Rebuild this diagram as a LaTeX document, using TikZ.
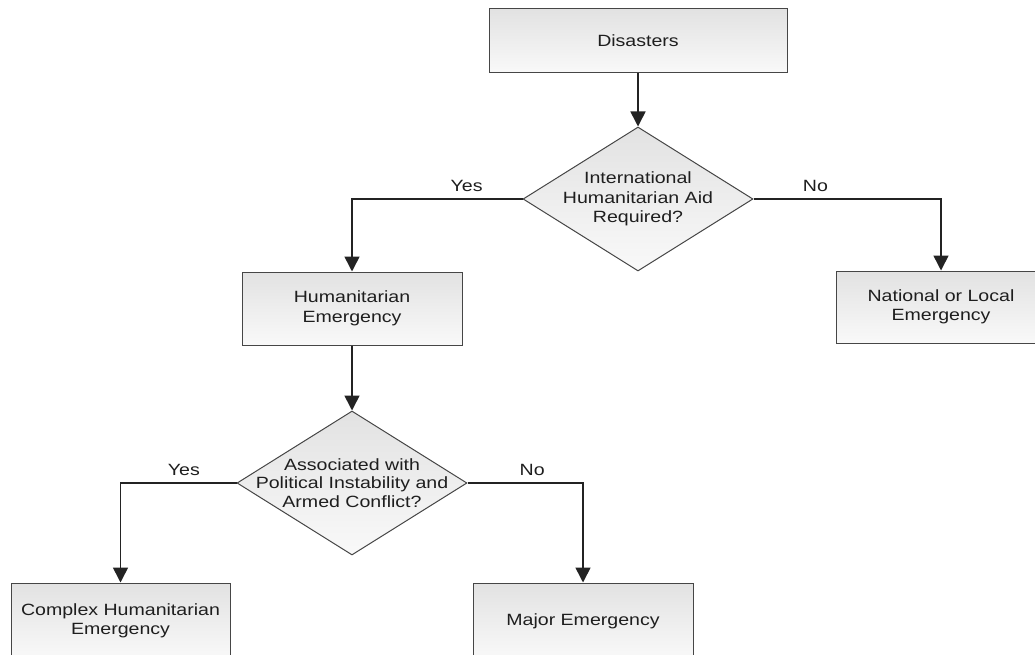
\documentclass[tikz,border=0pt]{standalone}
\usepackage{fontspec}
\setmainfont{Liberation Sans}[FakeStretch=1.2]
\usetikzlibrary{shapes.geometric,arrows.meta}
\definecolor{shadetop}{RGB}{226,226,226}
\definecolor{shadebot}{RGB}{249,249,249}
\definecolor{edgegray}{RGB}{70,70,70}
\definecolor{linedark}{RGB}{35,35,35}
\definecolor{txt}{RGB}{30,30,30}
\begin{document}
\begin{tikzpicture}[x=1pt,y=-1pt,
  every node/.style={font=\fontsize{16.3}{19.5}\selectfont, text=txt},
  boxnode/.style={rectangle, draw=edgegray, line width=1pt, top color=shadetop, bottom color=shadebot, align=center, inner sep=0pt},
  decision/.style={diamond, draw=edgegray, line width=1pt, top color=shadetop, bottom color=shadebot, inner sep=0pt, minimum width=230, minimum height=144},
  flow/.style={draw=linedark, line width=1.6pt, -{Triangle[length=15pt,width=15pt]}},
  answer/.style={inner sep=0pt, anchor=south, yshift=7pt}
]
\useasboundingbox (0,0) rectangle (1035,655);

\node[boxnode, minimum width=298, minimum height=64] (dis) at (638,41) {Disasters};
\node[decision, label={[align=center, inner sep=0pt]center:International\\Humanitarian Aid\\Required?}] (d1) at (638,199) {};
\node[boxnode, minimum width=220, minimum height=73] (hum) at (352,308.5) {Humanitarian\\Emergency};
\node[boxnode, minimum width=210, minimum height=72] (nat) at (941,307) {National or Local\\Emergency};
\node[decision, label={[align=center, inner sep=0pt, font=\fontsize{16.3}{18.7}\selectfont]center:Associated with\\Political Instability and\\Armed Conflict?}] (d2) at (352,483) {};
\node[boxnode, minimum width=219, minimum height=76] (cx) at (120.5,621) {Complex Humanitarian\\Emergency};
\node[boxnode, minimum width=220, minimum height=76] (maj) at (583,621) {Major Emergency};

\draw[flow] (dis.south) -- (d1.north);
\draw[flow] (d1.west) -| node[answer, pos=0.164] (y1) {Yes} (hum.north);
\draw[flow] (d1.east) -| node[answer, pos=0.165] (n1) {No} (nat.north);
\draw[flow] (hum.south) -- (d2.north);
\draw[flow] (d2.west) -| node[answer, pos=0.227] (y2) {Yes} (cx.north);
\draw[flow] (d2.east) -| node[answer, pos=0.28] (n2) {No} (maj.north);
\end{tikzpicture}
\end{document}
